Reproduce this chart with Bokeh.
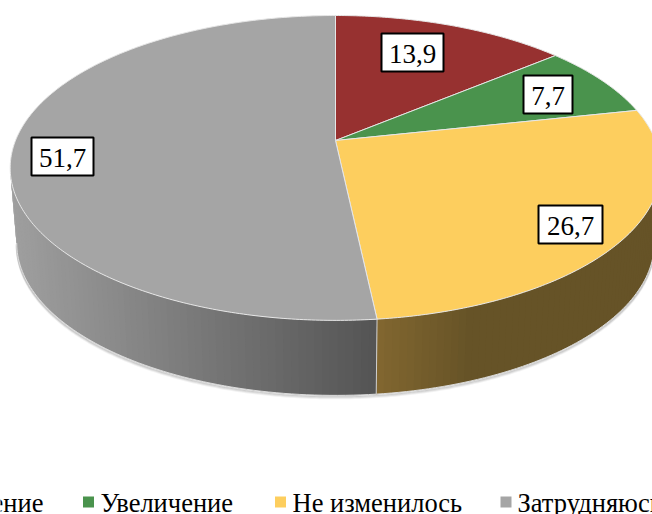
import numpy as np
from bokeh.plotting import figure
from bokeh.models import Range1d
from bokeh.core.properties import value
from bokeh.embed import file_html
from bokeh.resources import INLINE

# Data
categories = ["Уменьшение", "Увеличение", "Не изменилось", "Затрудняюсь ответить"]
shares = [13.9, 7.7, 26.7, 51.7]
labels = ["13,9", "7,7", "26,7", "51,7"]
colors = ["#973130", "#4A934D", "#FDCE5E", "#A5A5A5"]

# Layout (page pixels)
label_cx = [412, 547.5, 570, 62]
label_cy = [52, 94, 224, 156]
label_w = [62, 49, 64, 62]
label_h = 38
legend_square_x = [None, 88, 280, 505.5]
legend_text_x = [43, 100, 292, 517]
legend_y = 501.5
legend_base = 502

W, H = 652, 514
CX, CY, A, B, K = 335.0, 140.0, 320.0, 147.5, 0.18
SIDE_DY = 75.0
SIDE_XS = 0.98
WALL_LO, WALL_HI = 0.5576 * np.pi, 1.4424 * np.pi

p = figure(width=W, height=H, output_backend="svg", toolbar_location=None,
           x_range=Range1d(0, W), y_range=Range1d(H, 0),
           min_border=0, outline_line_color=None, background_fill_color="white")
p.xaxis.visible = False
p.yaxis.visible = False
p.grid.visible = False


def rim(theta, dy=0.0, xs=1.0, r=1.0):
    u, v = r * np.sin(theta), r * np.cos(theta)
    d = 1 + K * v
    return CX + xs * A * u / d, CY + dy - B * v / d


def lerp_color(c0, c1, t):
    t = min(max(t, 0.0), 1.0)
    return "#%02x%02x%02x" % tuple(int(round(a + (b - a) * t)) for a, b in zip(c0, c1))


shares_arr = np.array(shares)
edges = np.concatenate([[0], np.cumsum(shares_arr) / shares_arr.sum()]) * 2 * np.pi

# soft shadow under the lower rim
ths = np.linspace(WALL_LO, WALL_HI, 240)
for off, al in [(3.0, 0.05), (2.0, 0.08), (1.0, 0.12)]:
    sx, sy = rim(ths, SIDE_DY + off, SIDE_XS)
    p.line(sx, sy, line_color="#000000", line_alpha=al, line_width=2)

# side wall
gray_l, gray_r = (158, 158, 158), (84, 84, 84)
ol_l, ol_r = (130, 103, 48), (102, 83, 39)


def side_color(i, xm):
    if i == 3:
        return lerp_color(gray_l, gray_r, (xm - 15) / (376 - 15))
    return lerp_color(ol_l, ol_r, (xm - 376) / 95)


for i in range(2, 4):
    lo, hi = max(edges[i], WALL_LO), min(edges[i + 1], WALL_HI)
    n = max(int((hi - lo) / 0.02), 2)
    grid = np.linspace(lo, hi, n + 1)
    xs, ys, cs = [], [], []
    for j in range(n):
        a0 = grid[j]
        a1 = grid[min(j + 2, n)]
        x0, y0 = rim(a0)
        x1, y1 = rim(a1)
        x2, y2 = rim(a1, SIDE_DY, SIDE_XS)
        x3, y3 = rim(a0, SIDE_DY, SIDE_XS)
        xs.append([x0, x1, x2, x3])
        ys.append([y0, y1, y2, y3])
        cs.append(side_color(i, (x0 + rim(grid[j + 1])[0]) / 2))
    p.patches(xs, ys, fill_color=cs, line_color=None)
    sx, sy = rim(grid, SIDE_DY, SIDE_XS)
    p.line(sx, sy, line_color="#dcdcdc", line_width=1)

# vertical seam at the yellow / gray boundary
bx0, by0 = rim(edges[3])
bx1, by1 = rim(edges[3], SIDE_DY, SIDE_XS)
p.line([bx0, bx1], [by0, by1], line_color="#d0d0d0", line_width=1)

# top face
for i in range(4):
    th = np.linspace(edges[i], edges[i + 1], max(int(shares[i] * 6), 12))
    x, y = rim(th)
    p.patch(np.r_[CX, x], np.r_[CY, y], fill_color=colors[i],
            line_color="#e6e6e6", line_width=1)

# data labels
font = value("Liberation Serif")
for i in range(4):
    p.quad(left=label_cx[i] - label_w[i] / 2, right=label_cx[i] + label_w[i] / 2,
           top=label_cy[i] - label_h / 2, bottom=label_cy[i] + label_h / 2,
           fill_color="white", line_color="black", line_width=2)
    p.text([label_cx[i]], [label_cy[i] + 1], text=[labels[i]], text_font=font,
           text_font_size="27px", text_color="black",
           text_align="center", text_baseline="middle")

# legend row
for i in range(4):
    if legend_square_x[i] is not None:
        p.scatter([legend_square_x[i]], [legend_y], marker="square", size=11,
                  fill_color=colors[i], line_color=None)
    p.text([legend_text_x[i]], [legend_base], text=[categories[i]], text_font=font,
           text_font_size="26.5px", text_color="black",
           text_align="right" if i == 0 else "left", text_baseline="alphabetic")

html = file_html(p, INLINE)
open("out.html", "w").write(html)
